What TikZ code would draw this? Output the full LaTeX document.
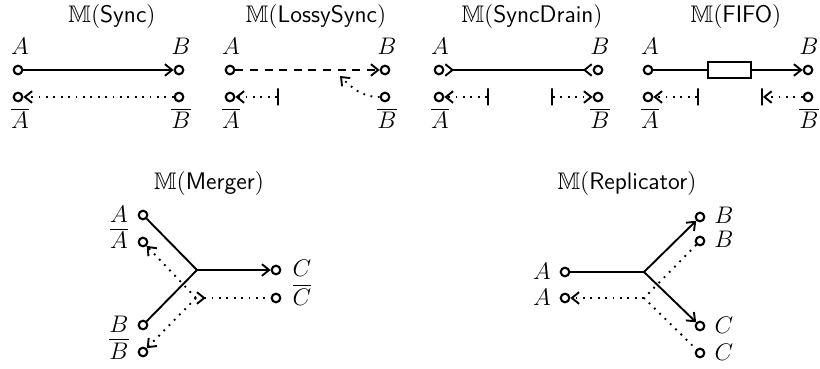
\documentclass[tikz,border=0pt]{standalone}
\usepackage{amssymb}
\usetikzlibrary{arrows.meta}

\begin{document}
\begin{tikzpicture}[x=0.5pt,y=-0.5pt,
  >={Straight Barb[length=3.6pt,width=5.8pt]},
  every node/.style={font=\large},
  port/.style={circle, draw, line width=1.05pt, inner sep=0pt, minimum size=4.3pt},
  stopper/.style={draw, line width=0.95pt, inner sep=0pt, minimum width=0pt, minimum height=8.5pt},
  fifobox/.style={draw, line width=0.95pt, rectangle, inner sep=0pt, minimum width=21.5pt, minimum height=8pt},
  wire/.style={line width=0.95pt},
  dotwire/.style={line width=0.95pt, dash pattern=on 0.9pt off 2.8pt},
  dashwire/.style={line width=0.95pt, dash pattern=on 4pt off 3.3pt},
  title/.style={anchor=base, inner sep=0pt},
  lab/.style={anchor=base, inner sep=0pt},
]
\useasboundingbox (0,0) rectangle (820,369);

% ---------- Sync ----------
\node[title] (t1) at (112,23) {$\mathbb{M}(\textsf{Sync})$};
\node[port] (p1a)  at (18,70) {};
\node[port] (p1b)  at (179,70) {};
\node[port] (p1ab) at (18,97) {};
\node[port] (p1bb) at (179,97) {};
\node[lab] (l1a)  at (20,55)  {$A$};
\node[lab] (l1b)  at (181,55) {$B$};
\node[lab] (l1ab) at (20,129) {$\overline{A}$};
\node[lab] (l1bb) at (181,129) {$\overline{B}$};
\draw[wire,->] (p1a) -- (p1b);
\draw[dotwire,->] (p1bb) -- (p1ab);

% ---------- LossySync ----------
\node[title] (t2) at (316,23) {$\mathbb{M}(\textsf{LossySync})$};
\node[port] (p2a)  at (230,70) {};
\node[port] (p2b)  at (385,70) {};
\node[port] (p2ab) at (230,97) {};
\node[port] (p2bb) at (385,97) {};
\node[stopper] (s2a) at (278,97) {};
\coordinate (k2) at (340,76);
\node[lab] (l2a)  at (231,55)  {$A$};
\node[lab] (l2b)  at (387,55) {$B$};
\node[lab] (l2ab) at (231,129) {$\overline{A}$};
\node[lab] (l2bb) at (387,129) {$\overline{B}$};
\draw[dashwire,->] (p2a) -- (p2b);
\draw[dotwire,->] (s2a) -- (p2ab);
\draw[dotwire,->] (p2bb) to[out=180,in=-45] (k2);

% ---------- SyncDrain ----------
\node[title] (t3) at (532,23) {$\mathbb{M}(\textsf{SyncDrain})$};
\node[port] (p3a)  at (439,70) {};
\node[port] (p3b)  at (598,70) {};
\node[port] (p3ab) at (439,97) {};
\node[port] (p3bb) at (598,97) {};
\node[stopper] (s3a) at (488,97) {};
\node[stopper] (s3b) at (552,97) {};
\node[lab] (l3a)  at (440,55)  {$A$};
\node[lab] (l3b)  at (600,55) {$B$};
\node[lab] (l3ab) at (440,129) {$\overline{A}$};
\node[lab] (l3bb) at (600,129) {$\overline{B}$};
\draw[wire,>-<] (p3a) -- (p3b);
\draw[dotwire,->] (s3a) -- (p3ab);
\draw[dotwire,->] (s3b) -- (p3bb);

% ---------- FIFO ----------
\node[title] (t4) at (736,23) {$\mathbb{M}(\textsf{FIFO})$};
\node[port] (p4a)  at (648,70) {};
\node[port] (p4b)  at (808,70) {};
\node[port] (p4ab) at (648,97) {};
\node[port] (p4bb) at (808,97) {};
\node[fifobox] (buf) at (729.5,70) {};
\node[stopper] (s4a) at (698,97) {};
\node[stopper] (s4b) at (762,97) {};
\node[lab] (l4a)  at (650,55)  {$A$};
\node[lab] (l4b)  at (809,55) {$B$};
\node[lab] (l4ab) at (650,129) {$\overline{A}$};
\node[lab] (l4bb) at (809,129) {$\overline{B}$};
\draw[wire] (p4a) -- (buf);
\draw[wire,->] (buf) -- (p4b);
\draw[dotwire,->] (s4a) -- (p4ab);
\draw[dotwire,->] (p4bb) -- (s4b);

% ---------- Merger ----------
\node[title] (t5) at (209,190) {$\mathbb{M}(\textsf{Merger})$};
\node[port] (ma)  at (143,215) {};
\node[port] (mab) at (143,242) {};
\node[port] (mb)  at (143,325) {};
\node[port] (mbb) at (143,352) {};
\node[port] (mc)  at (276,270) {};
\node[port] (mcb) at (276,298) {};
\coordinate (mj)  at (197,270);
\coordinate (mj2) at (196,298);
\node[lab] (lma)  at (119,222) {$A$};
\node[lab] (lmab) at (119,249) {$\overline{A}$};
\node[lab] (lmb)  at (119,332) {$B$};
\node[lab] (lmbb) at (119,359) {$\overline{B}$};
\node[lab] (lmc)  at (302,277) {$C$};
\node[lab] (lmcb) at (302,305) {$\overline{C}$};
\draw[wire] (ma) -- (mj) -- (mb);
\draw[wire,->] (mj) -- (mc);
\draw[dotwire,->] (mj2) -- (mab);
\draw[dotwire,->] (mj2) -- (mbb);
\draw[dotwire,>-] (mj2) -- (mcb);

% ---------- Replicator ----------
\node[title] (t6) at (627,190) {$\mathbb{M}(\textsf{Replicator})$};
\node[port] (ra)  at (565,272) {};
\node[port] (ra2) at (565,298) {};
\node[port] (rb)  at (700,217) {};
\node[port] (rb2) at (700,241) {};
\node[port] (rc)  at (700,326) {};
\node[port] (rc2) at (700,353) {};
\coordinate (rj)  at (644,272);
\coordinate (rj2) at (644,298);
\node[lab] (lra)  at (542,279) {$A$};
\node[lab] (lra2) at (542,305) {$A$};
\node[lab] (lrb)  at (724,224) {$B$};
\node[lab] (lrb2) at (724,248) {$B$};
\node[lab] (lrc)  at (724,333) {$C$};
\node[lab] (lrc2) at (724,360) {$C$};
\draw[wire] (ra) -- (rj);
\draw[wire,->] (rj) -- (rb);
\draw[wire,->] (rj) -- (rc);
\draw[dotwire] (rb2) -- (rj2) -- (rc2);
\draw[dotwire,->] (rj2) -- (ra2);
\end{tikzpicture}
\end{document}
